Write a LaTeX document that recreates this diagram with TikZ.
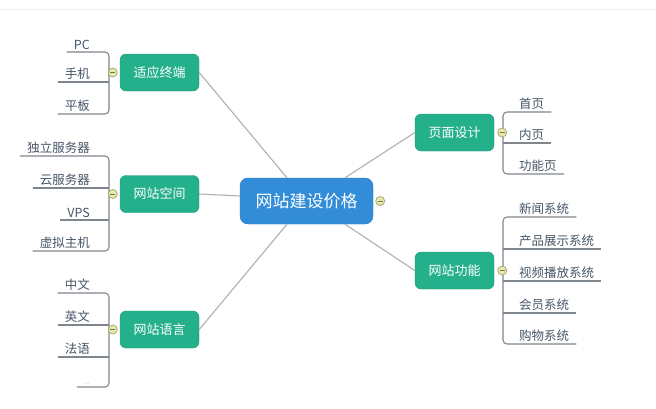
\documentclass[tikz,border=0pt]{standalone}
\usepackage{fontspec}
\newfontfamily\cjk{Noto Sans CJK SC}
\usetikzlibrary{calc}
\definecolor{nodegreen}{RGB}{36,176,139}
\definecolor{nodeblue}{RGB}{50,140,216}
\definecolor{leaftext}{RGB}{72,86,102}
\definecolor{leafline}{RGB}{128,134,142}
\definecolor{conn}{RGB}{176,176,176}
\definecolor{collfill}{RGB}{232,232,176}
\definecolor{colldraw}{RGB}{170,170,110}
\begin{document}
\begin{tikzpicture}[x=1pt,y=-1pt,
 branch/.style={fill=nodegreen, draw=nodegreen!85!black, line width=0.4pt, rounded corners=6pt, minimum width=79pt, minimum height=37pt, text=white, font=\cjk\fontsize{13}{13}\selectfont, inner sep=0pt},
 root/.style={fill=nodeblue, draw=nodeblue!85!black, line width=0.4pt, rounded corners=8pt, minimum width=133pt, minimum height=46pt, text=white, font=\cjk\fontsize{17}{17}\selectfont, inner sep=0pt},
 leafL/.style={anchor=south east, text=leaftext, font=\cjk\fontsize{12.5}{12.5}\selectfont, inner xsep=7pt, inner ysep=2.5pt},
 leafR/.style={leafL, anchor=south west},
 lline/.style={draw=leafline, line width=1.1pt},
 conline/.style={draw=conn, line width=1.1pt},
 collapse/.style={circle, fill=collfill, draw=colldraw, line width=0.8pt, minimum size=9pt, inner sep=0pt,
   path picture={\draw[colldraw!70!black, line width=0.8pt] ([xshift=-2.5pt]path picture bounding box.center) -- ([xshift=2.5pt]path picture bounding box.center);}},
]
\useasboundingbox (0,0) rectangle (656,408);
\fill[white] (0,0) rectangle (656,408);
\draw[gray!12, line width=1pt] (0,9) -- (656,9);

% root and branches
\node[root] (c) at (306.5,201) {网站建设价格};
\node[branch] (a) at (159.5,72.5) {适应终端};
\node[branch] (b) at (159.5,194) {网站空间};
\node[branch] (l) at (159.5,329.5) {网站语言};
\node[branch] (p) at (454.5,132.5) {页面设计};
\node[branch] (f) at (454.5,270.5) {网站功能};

% connectors
\draw[conline] (a.east) -- ([xshift=-19.5pt]c.north);
\draw[conline] (b.east) -- ([yshift=5pt]c.west);
\draw[conline] (l.east) -- ([xshift=-19.5pt]c.south);
\draw[conline] ([xshift=38.5pt]c.north) -- (p.west);
\draw[conline] ([xshift=38.5pt]c.south) -- (f.west);

% bracket x positions
\coordinate (bL) at (109,0);
\coordinate (bR) at (503,0);

% group a
\node[leafL] (pc) at (97,52) {PC};
\node[leafL] (sj) at (97,82) {手机};
\node[leafL] (pb) at (97,114) {平板};
\draw[lline, rounded corners=4pt] (pc.south west) -- (pc.south -| bL) -- (pb.south -| bL) -- (pb.south west);
\draw[lline] (sj.south west) -- (sj.south -| bL);

% group b
\node[leafL] (dl) at (97,156) {独立服务器};
\node[leafL] (yf) at (97,188) {云服务器};
\node[leafL] (vps) at (97,220) {VPS};
\node[leafL] (xn) at (97,251) {虚拟主机};
\draw[lline, rounded corners=4pt] (dl.south west) -- (dl.south -| bL) -- (xn.south -| bL) -- (xn.south west);
\draw[lline] (yf.south west) -- (yf.south -| bL);
\draw[lline] (vps.south west) -- (vps.south -| bL);

% group l
\node[leafL] (zw) at (97,293) {中文};
\node[leafL] (yw) at (97,325) {英文};
\node[leafL] (fy) at (97,357) {法语};
\node[leafL, font=\cjk\fontsize{7}{7}\selectfont, text=gray!55] (dots) at (97,387) {...};
\draw[lline, rounded corners=4pt] (zw.south west) -- (zw.south -| bL) -- (dots.south -| bL) -- (dots.south west);
\draw[lline] (yw.south west) -- (yw.south -| bL);
\draw[lline] (fy.south west) -- (fy.south -| bL);

% group p
\node[leafR] (sy) at (512,112) {首页};
\node[leafR] (ny) at (512,143) {内页};
\node[leafR] (gn) at (512,174) {功能页};
\draw[lline, rounded corners=4pt] (sy.south east) -- (sy.south -| bR) -- (gn.south -| bR) -- (gn.south east);
\draw[lline] (ny.south east) -- (ny.south -| bR);

% group f
\node[leafR] (xw) at (512,217) {新闻系统};
\node[leafR] (cp) at (512,249) {产品展示系统};
\node[leafR] (sp) at (512,281) {视频播放系统};
\node[leafR] (hy) at (512,313) {会员系统};
\node[leafR] (gw) at (512,344) {购物系统};
\draw[lline, rounded corners=4pt] (xw.south east) -- (xw.south -| bR) -- (gw.south -| bR) -- (gw.south east);
\draw[lline] (cp.south east) -- (cp.south -| bR);
\draw[lline] (sp.south east) -- (sp.south -| bR);
\draw[lline] (hy.south east) -- (hy.south -| bR);

% collapse markers
\node[collapse] (ka) at ([xshift=-7pt]a.west) {};
\node[collapse] (kb) at ([xshift=-7pt]b.west) {};
\node[collapse] (kl) at ([xshift=-7pt]l.west) {};
\node[collapse] (kp) at ([xshift=8pt]p.east) {};
\node[collapse] (kf) at ([xshift=8pt]f.east) {};
\node[collapse] (kc) at ([xshift=7pt]c.east) {};
\end{tikzpicture}
\end{document}
